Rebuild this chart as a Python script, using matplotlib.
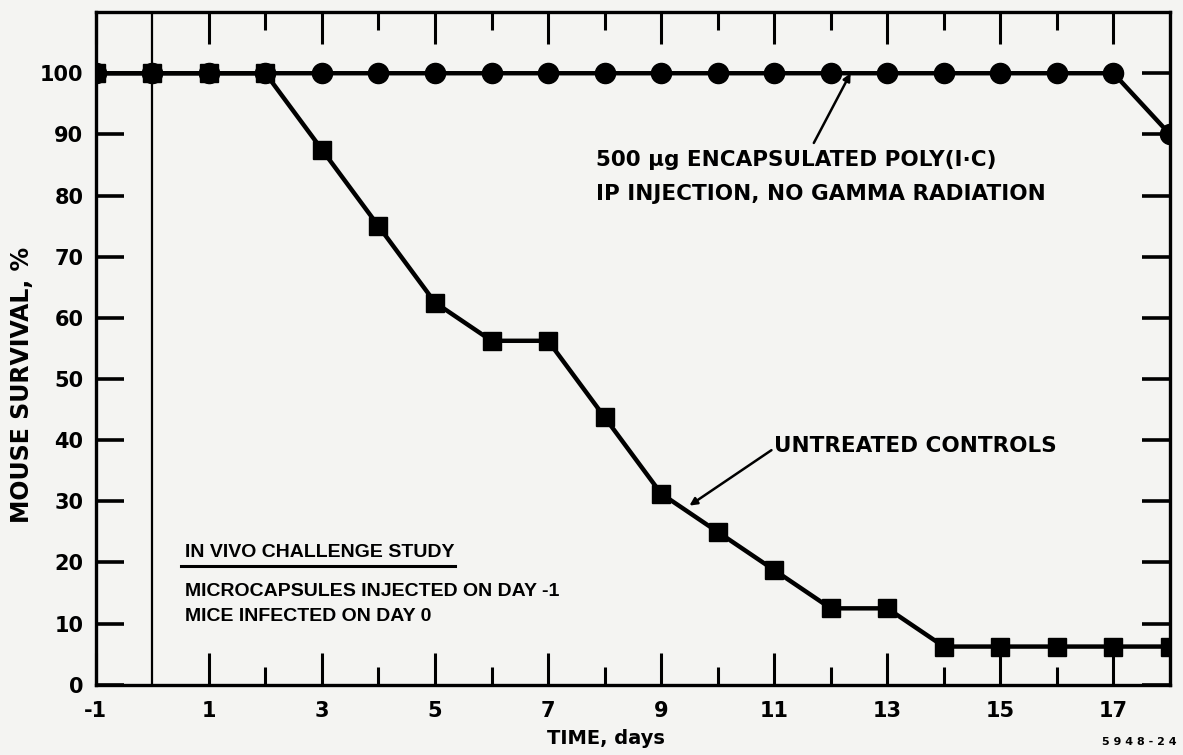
import numpy as np
import matplotlib
matplotlib.use('Agg')
import matplotlib.pyplot as plt

# Survival data, days after infection
days = [-1, 0, 1, 2, 3, 4, 5, 6, 7, 8, 9, 10, 11, 12, 13, 14, 15, 16, 17, 18]
treated = [100, 100, 100, 100, 100, 100, 100, 100, 100, 100,
           100, 100, 100, 100, 100, 100, 100, 100, 100, 90]
controls = [100, 100, 100, 100, 87.5, 75, 62.5, 56.25, 56.25, 43.75,
            31.25, 25, 18.75, 12.5, 12.5, 6.25, 6.25, 6.25, 6.25, 6.25]

x_major = [-1, 1, 3, 5, 7, 9, 11, 13, 15, 17]
x_minor = [2, 4, 6, 8, 10, 12, 14, 16]
y_ticks = [0, 10, 20, 30, 40, 50, 60, 70, 80, 90, 100]

plt.rcParams['font.family'] = ['DejaVu Sans']
plt.rcParams['font.weight'] = 'bold'

bg = '#f4f4f2'
fig = plt.figure(figsize=(11.83, 7.55), dpi=100, facecolor=bg)
ax = fig.add_axes([0.081, 0.093, 0.908, 0.891], facecolor=bg)

# Treated group (circles), controls (squares) drawn on top
ax.plot(days, treated, color='black', lw=3.2, marker='o', ms=14.5, zorder=3)
ax.plot(days, controls, color='black', lw=3.2, marker='s', ms=13, zorder=4)

# day of infection
ax.axvline(0, color='black', lw=1.6, zorder=2)

ax.set_xlim(-1, 18)
ax.set_ylim(0, 110)

ax.set_xticks(x_major)
ax.set_xticks(x_minor, minor=True)
ax.set_yticks(y_ticks)
ax.set_xticklabels([str(v) for v in x_major], fontsize=15, fontweight='bold')
ax.set_yticklabels([str(v) for v in y_ticks], fontsize=15, fontweight='bold')

ax.tick_params(axis='x', which='major', direction='in', length=23, width=2.2,
               top=True, pad=12)
ax.tick_params(axis='x', which='minor', direction='in', length=13, width=2.2,
               top=True)
ax.tick_params(axis='y', which='major', direction='in', length=20, width=2.6,
               right=True, pad=9)

for side in ['left', 'right', 'top', 'bottom']:
    ax.spines[side].set_linewidth(2.4)

ax.set_ylabel('MOUSE SURVIVAL, %', fontsize=17, fontweight='bold')
ax.yaxis.set_label_coords(-0.058, 0.445)
ax.set_xlabel('TIME, days', fontsize=14, fontweight='bold')
ax.xaxis.set_label_coords(0.475, -0.066)

# treated series label with pointer line
ax.text(7.85, 85.8, '500 µg ENCAPSULATED POLY(I·C)', fontsize=15.5,
        fontweight='bold', ha='left', va='center')
ax.text(7.85, 80.3, 'IP INJECTION, NO GAMMA RADIATION', fontsize=15.5,
        fontweight='bold', ha='left', va='center')
ax.annotate('', xy=(12.35, 100), xytext=(11.7, 88.6),
            arrowprops=dict(arrowstyle='-|>', color='black', lw=1.8,
                            mutation_scale=11, shrinkA=0, shrinkB=0))

# control series label
ax.annotate('UNTREATED CONTROLS', xy=(9.5, 29.3), xytext=(11.0, 39.0),
            fontsize=15.5, fontweight='bold', ha='left', va='center',
            arrowprops=dict(arrowstyle='-|>', color='black', lw=1.8,
                            mutation_scale=11, shrinkA=0, shrinkB=0,
                            relpos=(0.0, 0.4)))

# study notes
narrow = ['Liberation Sans Narrow', 'Liberation Sans', 'DejaVu Sans']
ax.text(0.58, 21.6, 'IN VIVO CHALLENGE STUDY', fontsize=14, fontweight='bold',
        family=narrow, ha='left', va='center')
ax.plot([0.5, 5.35], [19.4, 19.4], color='black', lw=2.2)
ax.text(0.58, 15.2, 'MICROCAPSULES INJECTED ON DAY -1', fontsize=14,
        fontweight='bold', family=narrow, ha='left', va='center')
ax.text(0.58, 11.2, 'MICE INFECTED ON DAY 0', fontsize=14,
        fontweight='bold', family=narrow, ha='left', va='center')

fig.text(0.995, 0.01, '5 9 4 8 - 2 4', fontsize=8, fontweight='bold',
         ha='right', va='bottom')

fig.savefig('out.png', dpi=100, facecolor=bg)
